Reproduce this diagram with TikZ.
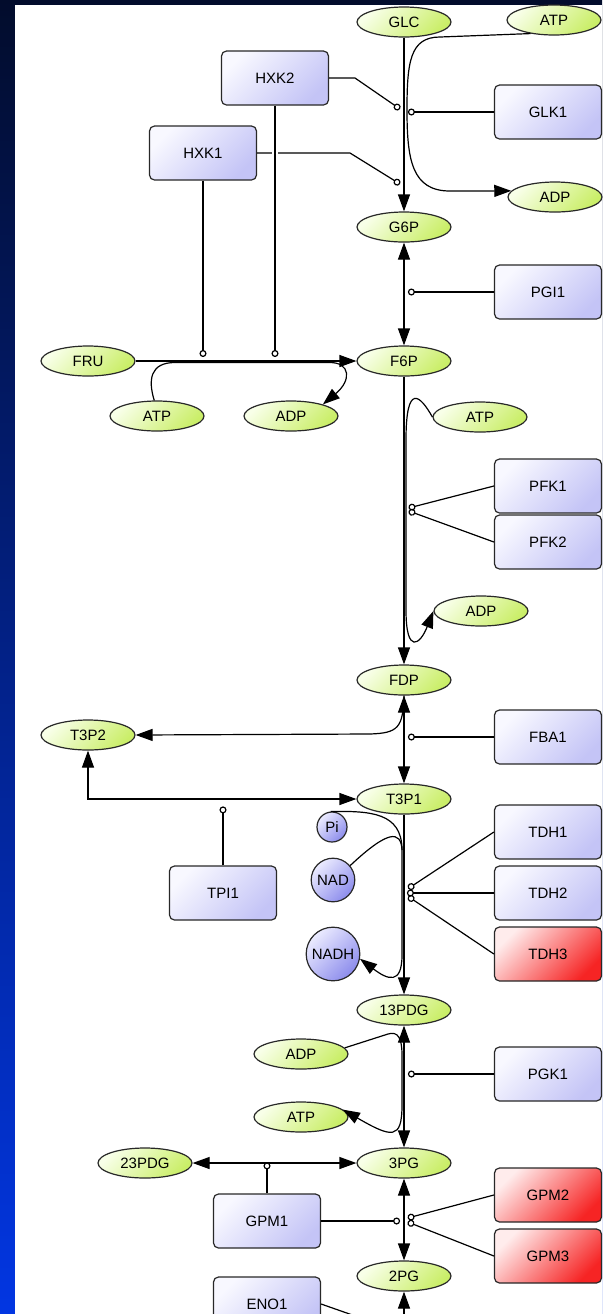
\documentclass[tikz,border=0pt]{standalone}
\usepackage{fontspec}
\setmainfont{Liberation Sans}
\usetikzlibrary{positioning,shapes.geometric,arrows.meta}

\definecolor{spleft}{RGB}{248,255,232}
\definecolor{spright}{RGB}{202,238,104}
\definecolor{enzleft}{RGB}{248,248,255}
\definecolor{enzright}{RGB}{196,196,246}
\definecolor{redleft}{RGB}{255,236,236}
\definecolor{redright}{RGB}{246,36,36}
\definecolor{cofleft}{RGB}{236,236,255}
\definecolor{cofright}{RGB}{140,140,236}
\definecolor{bandtop}{RGB}{2,12,44}
\definecolor{bandbot}{RGB}{2,54,226}
\definecolor{rim}{RGB}{40,40,40}

\tikzset{
  spec/.style={ellipse, draw=rim, minimum width=47pt, minimum height=15pt, inner sep=0pt,
    top color=spleft, bottom color=spright, shading angle=45},
  enz/.style={rectangle, rounded corners=2.5pt, draw=rim, minimum width=53.5pt, minimum height=27pt,
    top color=enzleft, bottom color=enzright, shading angle=45},
  enzred/.style={enz, top color=redleft, bottom color=redright, shading angle=45},
  cof/.style={circle, draw=rim, inner sep=2pt, minimum size=15pt,
    top color=cofleft, bottom color=cofright, shading angle=45},
  rx/.style={-{Triangle[length=8.5pt,width=6pt]}},
  rxb/.style={{Triangle[length=8.5pt,width=6pt]}-{Triangle[length=8.5pt,width=6pt]}},
  rxr/.style={{Triangle[length=8.5pt,width=6pt]}-},
  cat/.style={-{Circle[open,length=3.5pt,width=3.5pt]}},
}

\begin{document}
\begin{tikzpicture}[x=0.5pt,y=0.5pt,line width=0.6pt,font=\fontsize{7.5pt}{9pt}\selectfont]
    \shade[top color=bandtop, bottom color=bandbot] (0,0) rectangle (602,-1314);
    \fill[white] (15,-5) rectangle (602,-1314);
    \useasboundingbox (0,0) rectangle (602,-1314);

    \node[spec] (glc) at (404,-22) {GLC};
    \node[spec] (atp1) at (554,-20) {ATP};
    \node[spec] (adp1) at (555,-197) {ADP};
    \node[spec] (g6p) at (404,-227) {G6P};
    \node[spec] (fru) at (88,-361) {FRU};
    \node[spec] (f6p) at (404,-361) {F6P};
    \node[spec] (atp2) at (157,-416) {ATP};
    \node[spec] (adp2) at (291,-416) {ADP};
    \node[spec] (atp3) at (480,-417) {ATP};
    \node[spec] (adp3) at (481,-611) {ADP};
    \node[spec] (fdp) at (404,-680) {FDP};
    \node[spec] (t3p2) at (88,-735) {T3P2};
    \node[spec] (t3p1) at (404,-799) {T3P1};
    \node[spec] (pdg13) at (404,-1010) {13PDG};
    \node[spec] (adp4) at (301,-1054) {ADP};
    \node[spec] (atp4) at (301,-1117) {ATP};
    \node[spec] (pdg23) at (145,-1163) {23PDG};
    \node[spec] (pg3) at (404,-1163) {3PG};
    \node[spec] (pg2) at (404,-1276) {2PG};

    \node[cof] (pi) at (332,-827) {Pi};
    \node[cof] (nad) at (333,-880) {NAD};
    \node[cof] (nadh) at (333,-954) {NADH};

    \node[enz] (hxk2) at (275,-78) {HXK2};
    \node[enz] (hxk1) at (203,-153) {HXK1};
    \node[enz] (glk1) at (548,-112) {GLK1};
    \node[enz] (pgi1) at (548,-292) {PGI1};
    \node[enz] (pfk1) at (548,-486) {PFK1};
    \node[enz] (pfk2) at (548,-542) {PFK2};
    \node[enz] (fba1) at (548,-737) {FBA1};
    \node[enz] (tpi1) at (223,-893) {TPI1};
    \node[enz] (tdh1) at (548,-832) {TDH1};
    \node[enz] (tdh2) at (548,-893) {TDH2};
    \node[enzred] (tdh3) at (548,-954) {TDH3};
    \node[enz] (pgk1) at (548,-1074) {PGK1};
    \node[enz] (gpm1) at (267,-1221) {GPM1};
    \node[enzred] (gpm2) at (548,-1195) {GPM2};
    \node[enzred] (gpm3) at (548,-1256) {GPM3};
    \node[enz] (eno1) at (267,-1304) {ENO1};

    \coordinate (hxk2c) at (400,-109);
    \coordinate (hxk1c) at (400,-184);
    \coordinate (hxk1d) at (203,-357);
    \coordinate (hxk2d) at (275,-357);
    \coordinate [left=86 of glk1.west] (glk1c);
    \coordinate [left=86 of pgi1.west] (pgi1c);
    \coordinate (pfk1c) at (408.6,-508);
    \coordinate (pfk2c) at (408.7,-511);
    \coordinate [left=86 of fba1.west] (fba1c);
    \coordinate [above=59 of tpi1.north] (tpi1c);
    \coordinate (tdh1c) at (408.2,-888.5);
    \coordinate [left=87 of tdh2.west] (tdh2c);
    \coordinate (tdh3c) at (408.2,-896.5);
    \coordinate [left=86 of pgk1.west] (pgk1c);
    \coordinate [above=31 of gpm1.north] (gpm1c);
    \coordinate [right=79 of gpm1.east] (gpm1d);
    \coordinate (gpm2c) at (407.7,-1218);
    \coordinate (gpm3c) at (407.7,-1222);
    \coordinate (eno1c) at (398,-1331);
    \coordinate [below=90 of pg2.south] (pg2d);

    \draw[rx] (glc) -- (g6p);
    \draw[rx] (atp1.210) -- (440,-37) .. controls (410,-37) and (407,-62) .. (407,-110)
        .. controls (407,-160) and (412,-191) .. (450,-191) -- (adp1.172);
    \draw[cat] (hxk2.east) -- (355,-78) -- (hxk2c);
    \draw[cat] (glk1.west) -- (glk1c);
    \draw[cat] (hxk1.east) -- (350,-153) -- (hxk1c);
    \draw[white, line width=3pt] (hxk2.south |- hxk1.east) ++(0,4) -- ++(0,-8);
    \draw[cat] (hxk1.south) -- (hxk1d);
    \draw[cat] (hxk2.south) -- (hxk2d);

    \draw[rxb] (g6p) -- (f6p);
    \draw[cat] (pgi1.west) -- (pgi1c);

    \draw[rx] (fru) -- (f6p);
    \draw[rx] (atp2.100) .. controls (148,-380) and (150,-362.5) .. (175,-362.5) -- (330,-362.5)
        .. controls (350,-362.5) and (352,-380) .. (adp2.20);

    \draw[rx] (f6p) -- (fdp);
    \draw[rx] (atp3.west) .. controls (420,-395) and (406,-382) .. (406,-440) -- (406,-610)
        .. controls (406,-655) and (420,-645) .. (adp3.west);
    \draw[cat] (pfk1.west) -- (pfk1c);
    \draw[cat] (pfk2.west) -- (pfk2c);

    \draw[rxb] (fdp) -- (t3p1);
    \draw[rx] (fdp.south) .. controls (403,-728) and (398,-733) .. (370,-734) -- (t3p2.east);
    \draw[cat] (fba1.west) -- (fba1c);

    \draw[rxb] (t3p2.south) |- (t3p1.west);
    \draw[cat] (tpi1.north) -- (tpi1c);

    \draw[rx] (t3p1) -- (pdg13);
    \draw[rx] (pi.95) .. controls (370,-811) and (402,-812) .. (402,-850) -- (402,-955)
        .. controls (402,-985) and (388,-980) .. (nadh.-10);
    \draw (nad.40) .. controls (388,-830) and (401,-830) .. (402,-850);
    \draw[cat] (tdh1.west) -- (tdh1c);
    \draw[cat] (tdh2.west) -- (tdh2c);
    \draw[cat] (tdh3.west) -- (tdh3c);

    \draw[rxb] (pdg13) -- (pg3);
    \draw[rx] (adp4.8) -- (388,-1034) .. controls (398,-1031) and (402,-1038) .. (402,-1055) -- (402,-1105)
        .. controls (402,-1140) and (392,-1138) .. (atp4.10);
    \draw[cat] (pgk1.west) -- (pgk1c);

    \draw[rxb] (pdg23) -- (pg3);
    \draw[cat] (gpm1.north) -- (gpm1c);
    \draw[rxb] (pg3) -- (pg2);
    \draw[cat] (gpm1.east) -- (gpm1d);
    \draw[cat] (gpm2.west) -- (gpm2c);
    \draw[cat] (gpm3.west) -- (gpm3c);

    \draw[rxr] (pg2) -- (pg2d);
    \draw[cat] (eno1.east) -- (eno1c);
\end{tikzpicture}
\end{document}
